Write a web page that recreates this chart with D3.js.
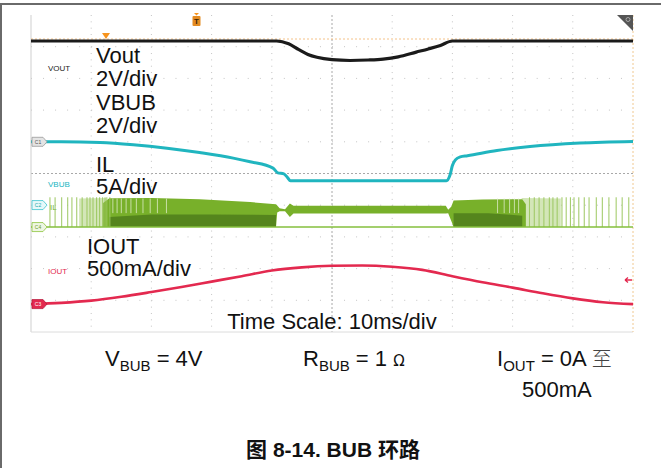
<!DOCTYPE html>
<html>
<meta charset="utf-8">
<style>
  body {
    margin: 0;
    padding: 0;
    background-color: #ffffff;
    font-family: "Liberation Sans", Arial, sans-serif;
  }
  text {
    font-family: "Liberation Sans", Arial, "Noto Sans CJK SC", sans-serif;
  }
  .big { font-size: 22px; fill: #111; }
  .tag { font-size: 8px; }
  .note { font-size: 22px; fill: #111; }
  .caption { font-size: 21px; font-weight: bold; fill: #111; }
</style>
<body>
<div id="scope"></div>
<script src="https://d3js.org/d3.v7.min.js"></script>
<script>

// ---- trace data (time in ms, 10 ms/div) ----
var voutTime = [0, 40.8, 42.8, 44.5, 46, 47.5, 50, 53, 56, 58.5, 61, 64, 66, 68, 70, 100];
var voutVal  = [5, 5, 4.82, 4.45, 4.15, 3.97, 3.82, 3.77, 3.8, 3.86, 4.0, 4.3, 4.5, 4.72, 5, 5];

var vbubTime = [0, 5, 11.5, 17, 22.6, 28, 33.6, 36.4, 40.2, 41.0, 42.0, 42.6, 43.1, 69.0, 69.6, 70.0, 70.5, 71.3, 72.5, 77.4, 82.9, 91.2, 100];
var vbubVal  = [4.0, 4.0, 3.96, 3.82, 3.6, 3.32, 2.97, 2.74, 2.34, 2.04, 1.98, 1.75, 1.54, 1.54, 1.9, 2.5, 2.86, 3.05, 3.12, 3.45, 3.7, 3.92, 4.02];

// inductor current envelope (A)
var ilTime  = [12, 13, 20, 28, 36.4, 40.7, 40.9, 41.3, 42.2, 43.0, 43.6, 68.9, 69.3, 69.8, 70.2, 75, 81.6, 82.2];
var ilUpper = [3.8, 4.55, 4.57, 4.4, 3.94, 3.6, 3.4, 2.95, 2.8, 3.7, 3.36, 3.36, 2.75, 3.2, 4.2, 4.35, 4.4, 3.6];
var ilLower = [0, 0, 0, 0, 0, 0, 2.3, 2.5, 2.5, 1.6, 2.16, 2.16, 2.2, 1.0, 0, 0, 0, 0];
// dense low part of the bursts
var ilCoreTime  = [13, 20, 30, 40.7, 55, 70.2, 76, 81.6];
var ilCoreUpper = [1.6, 2.0, 2.0, 1.9, null, 2.2, 2.2, 1.8];
// light, half-filled part where the pulses thin out
var ilLightTime  = [8, 12.5, 50, 81.5, 88];
var ilLightUpper = [4.5, 4.6, null, 4.6, 4.5];
// single pulses
var ilSpikes = [3.15, 4.0, 5.1, 6.1, 6.8, 7.6, 8.5, 9.3, 9.8, 10.3, 10.9, 11.4, 11.9, 12.3, 12.6, 13.1,
                82.8, 83.6, 84.4, 85.2, 86.1, 86.7, 87.4, 88.2, 88.9, 89.6, 90.2, 91.0, 91.9, 92.7, 93.9, 94.9, 96.0, 97.2, 98.2, 99.3];
var ilSpikeTop = 4.7;
var ilGaps = [13.6, 14.3, 15.0, 15.8, 16.6, 17.5, 18.6, 19.8, 21.0, 22.5, 77.5, 78.6, 79.5, 80.3, 81.0];

var ioutTime = [0, 5, 10, 15, 20, 25, 30, 35, 40, 45, 50, 55, 60, 65, 70, 75, 80, 85, 90, 95, 100];
var ioutVal  = [0, 20, 55, 115, 190, 270, 355, 440, 530, 580, 605, 610, 590, 540, 440, 345, 260, 170, 90, 30, 0];

// channel markers on the left edge
var markerNames = ["C1", "C2", "C4", "C3"];
var markerChan  = ["vbub", "il", "il", "iout"];
var markerLevel = [4.0, 3.47, 0, 0];

// annotations
var bigLabels = ["Vout", "2V/div", "VBUB", "2V/div", "IL", "5A/div", "IOUT", "500mA/div"];
var tagLabels = ["VOUT", "VBUB", "IL", "IOUT"];

// ---- layout ----
var W = 661, H = 468;
var box = {left: 31, right: 633, top: 15, bottom: 332};

var svg = d3.select("#scope").append("svg")
  .attr("width", W).attr("height", H);

var x = d3.scaleLinear().domain([0, 100]).range([box.left, box.right]);
var div = d3.scaleLinear().domain([-5, 5]).range([box.bottom, box.top]);

var chans = {
  vout: {perDiv: 2, offset: 1.68},
  vbub: {perDiv: 2, offset: -1.0},
  il:   {perDiv: 5, offset: -1.69},
  iout: {perDiv: 500, offset: -4.12}
};
function yOf(name) {
  var c = chans[name];
  return function(v) { return div(v / c.perDiv + c.offset); };
}
var yVout = yOf("vout"), yVbub = yOf("vbub"), yIl = yOf("il"), yIout = yOf("iout");

// page frame
svg.append("line").attr("x1", 0).attr("x2", W).attr("y1", 4).attr("y2", 4)
  .attr("stroke", "#6a6a6a").attr("stroke-width", 2);
svg.append("line").attr("x1", 1).attr("x2", 1).attr("y1", 4).attr("y2", H)
  .attr("stroke", "#6a6a6a").attr("stroke-width", 2);

// grid
var grid = svg.append("g");
var colStep = (box.right - box.left) / 10, rowStep = (box.bottom - box.top) / 10;
grid.selectAll(".row").data(d3.range(1, 10)).enter().append("line")
  .attr("x1", box.left).attr("x2", box.right)
  .attr("y1", function(d){ return box.top + d * rowStep; })
  .attr("y2", function(d){ return box.top + d * rowStep; })
  .attr("stroke", function(d){ return d == 5 ? "#a8a8a8" : "#c4c4c4"; })
  .attr("stroke-dasharray", function(d){ return d == 5 ? "2,2" : "1," + (colStep / 5 - 1); });
grid.selectAll(".col").data(d3.range(1, 10)).enter().append("line")
  .attr("y1", box.top).attr("y2", box.bottom)
  .attr("x1", function(d){ return box.left + d * colStep; })
  .attr("x2", function(d){ return box.left + d * colStep; })
  .attr("stroke", function(d){ return d == 5 ? "#a8a8a8" : "#c4c4c4"; })
  .attr("stroke-dasharray", function(d){ return d == 5 ? "2,2" : "1," + (rowStep / 5 - 1); });
grid.append("line").attr("x1", box.left).attr("x2", box.left).attr("y1", box.top).attr("y2", box.bottom)
  .attr("stroke", "#cfcfcf");
grid.append("line").attr("x1", box.left).attr("x2", box.right).attr("y1", box.bottom).attr("y2", box.bottom)
  .attr("stroke", "#dcdcdc");
grid.append("line").attr("x1", box.right).attr("x2", box.right).attr("y1", box.top).attr("y2", box.bottom)
  .attr("stroke", "#f0c890").attr("stroke-dasharray", "2,2");
// trigger level
grid.append("line").attr("x1", box.left).attr("x2", box.right).attr("y1", 39).attr("y2", 39)
  .attr("stroke", "#f2b36a").attr("stroke-dasharray", "2,2").attr("stroke-width", 0.8);

// ---- IL ----
var ilG = svg.append("g");
var lightArea = d3.area()
  .defined(function(d){ return d[1] != null; })
  .x(function(d){ return x(d[0]); })
  .y0(yIl(0)).y1(function(d){ return yIl(d[1]); });
ilG.append("path").datum(d3.zip(ilLightTime, ilLightUpper))
  .attr("d", lightArea).attr("fill", "#d3e6b8");

ilG.append("path").datum(d3.zip(ilTime, ilUpper, ilLower))
  .attr("d", d3.area()
    .x(function(d){ return x(d[0]); })
    .y0(function(d){ return yIl(d[2]); })
    .y1(function(d){ return yIl(d[1]); }))
  .attr("fill", "#78b02a");

ilG.append("path").datum(d3.zip(ilCoreTime, ilCoreUpper))
  .attr("d", lightArea).attr("fill", "#4f7e1b").attr("opacity", 0.85);

ilG.selectAll(".gap").data(ilGaps).enter().append("line")
  .attr("x1", function(d){ return x(d); }).attr("x2", function(d){ return x(d); })
  .attr("y1", yIl(ilSpikeTop - 0.2)).attr("y2", yIl(2.2))
  .attr("stroke", "#dcebc6").attr("stroke-width", 1).attr("opacity", 0.8);

ilG.selectAll(".spike").data(ilSpikes).enter().append("line")
  .attr("x1", function(d){ return x(d); }).attr("x2", function(d){ return x(d); })
  .attr("y1", yIl(0)).attr("y2", yIl(ilSpikeTop))
  .attr("stroke", "#9cc760").attr("stroke-width", 1);

ilG.append("line").attr("x1", box.left).attr("x2", box.right)
  .attr("y1", yIl(0)).attr("y2", yIl(0))
  .attr("stroke", "#84bf3c").attr("stroke-width", 1.6);

// ---- voltage and current traces ----
function trace(t, v, yf) {
  return d3.line().x(function(d){ return x(d[0]); }).y(function(d){ return yf(d[1]); })
    .curve(d3.curveMonotoneX)(d3.zip(t, v));
}
svg.append("path").attr("d", trace(vbubTime, vbubVal, yVbub))
  .attr("fill", "none").attr("stroke", "#20b5bf").attr("stroke-width", 3);
svg.append("path").attr("d", trace(ioutTime, ioutVal, yIout))
  .attr("fill", "none").attr("stroke", "#e3294f").attr("stroke-width", 2.6);
svg.append("path").attr("d", trace(voutTime, voutVal, yVout))
  .attr("fill", "none").attr("stroke", "#1b1b1b").attr("stroke-width", 3.2);

// ---- markers ----
var mStyle = {
  C1: {fill: "#e4e4e4", stroke: "#9a9a9a", text: "#555"},
  C2: {fill: "#e6f8fa", stroke: "#3cc4cf", text: "#2aa"},
  C4: {fill: "#eef6e2", stroke: "#8cc43e", text: "#6a9a2a"},
  C3: {fill: "#e3294f", stroke: "#b81d3e", text: "#fff"}
};
markerNames.forEach(function(n, i) {
  var yy = yOf(markerChan[i])(markerLevel[i]);
  var s = mStyle[n];
  svg.append("path")
    .attr("d", "M32," + (yy - 4.5) + "H43L47," + yy + "L43," + (yy + 4.5) + "H32Z")
    .attr("fill", s.fill).attr("stroke", s.stroke).attr("stroke-width", 0.8);
  svg.append("text").attr("x", 38).attr("y", yy + 1.8).attr("text-anchor", "middle")
    .style("font-size", "5px").attr("fill", s.text).text(n);
});

// trigger icons
svg.append("path").attr("d", "M102,33H110L106,39Z").attr("fill", "#f7941d");
svg.append("path").attr("d", "M194,13H199L196.5,15.5Z").attr("fill", "#f7941d");
svg.append("rect").attr("x", 192.5).attr("y", 16).attr("width", 8).attr("height", 10)
  .attr("rx", 1).attr("fill", "#e38b22");
svg.append("text").attr("x", 196.5).attr("y", 24).attr("text-anchor", "middle")
  .style("font-size", "8px").style("font-weight", "bold").attr("fill", "#3b2508").text("T");
svg.append("path").attr("d", "M617,15H633V31Z").attr("fill", "#555");
svg.append("circle").attr("cx", 628).attr("cy", 19.5).attr("r", 2).attr("fill", "none")
  .attr("stroke", "#bbb").attr("stroke-width", 0.8);
// off-screen arrow for IOUT
svg.append("path").attr("d", "M625,280H632M625,280L628,277.5M625,280L628,282.5")
  .attr("stroke", "#e3294f").attr("stroke-width", 1.3).attr("fill", "none");

// ---- labels ----
var bigPos = [[96, 63], [96, 86], [96, 110], [96, 133], [96, 172], [96, 194], [87, 254], [87, 276]];
svg.selectAll(".big").data(bigLabels).enter().append("text")
  .attr("class", "big")
  .attr("x", function(d, i){ return bigPos[i][0]; })
  .attr("y", function(d, i){ return bigPos[i][1]; })
  .text(function(d){ return d; });

var tagPos = [[48, 71], [48, 187], [50, 210], [48, 274]];
var tagColor = ["#222", "#20b5bf", "#7ab530", "#e3294f"];
svg.selectAll(".tag").data(tagLabels).enter().append("text")
  .attr("class", "tag")
  .attr("x", function(d, i){ return tagPos[i][0]; })
  .attr("y", function(d, i){ return tagPos[i][1]; })
  .attr("fill", function(d, i){ return tagColor[i]; })
  .text(function(d){ return d; });

svg.append("text").attr("class", "note").attr("x", 332).attr("y", 329)
  .attr("text-anchor", "middle").text("Time Scale: 10ms/div");

// conditions under the screen shot
var t1 = svg.append("text").attr("class", "note").attr("x", 105).attr("y", 366);
t1.append("tspan").text("V");
t1.append("tspan").attr("dy", 5).style("font-size", "15px").text("BUB");
t1.append("tspan").attr("dy", -5).text(" = 4V");

var t2 = svg.append("text").attr("class", "note").attr("x", 303).attr("y", 366);
t2.append("tspan").text("R");
t2.append("tspan").attr("dy", 5).style("font-size", "15px").text("BUB");
t2.append("tspan").attr("dy", -5).text(" = 1 ");
t2.append("tspan").style("font-size", "15px").style("font-family", "DejaVu Sans").text("Ω");

var t3 = svg.append("text").attr("class", "note").attr("x", 497).attr("y", 366);
t3.append("tspan").text("I");
t3.append("tspan").attr("dy", 5).style("font-size", "15px").text("OUT");
t3.append("tspan").attr("dy", -5).text(" = 0A ");
t3.append("tspan").style("font-size", "20px").style("font-family", "Noto Sans CJK SC")
  .style("font-weight", 300).attr("fill", "#444").text("至");
svg.append("text").attr("class", "note").attr("x", 522).attr("y", 397).text("500mA");

svg.append("text").attr("class", "caption").attr("x", 333).attr("y", 457)
  .attr("text-anchor", "middle").text("图 8-14. BUB 环路");

</script>
</body>
</html>
